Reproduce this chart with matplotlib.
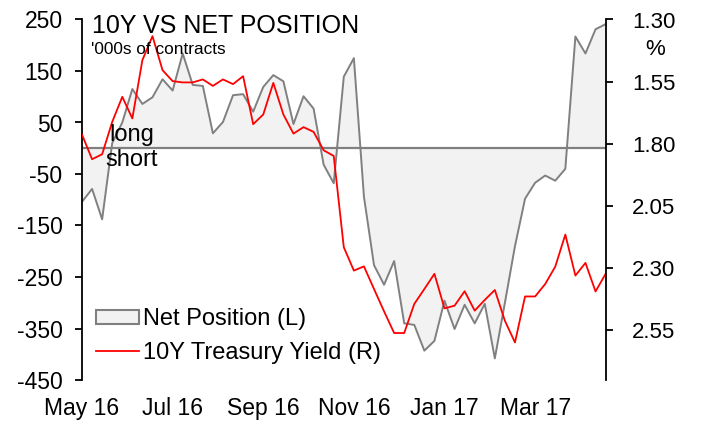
import numpy as np
import pandas as pd
import matplotlib
matplotlib.use('Agg')
import matplotlib.pyplot as plt
from matplotlib.patches import Patch
from matplotlib.lines import Line2D

plt.rcParams['font.family'] = ['Liberation Sans', 'DejaVu Sans']
plt.rcParams['axes.unicode_minus'] = False

# weekly data, May 2016 - Apr 2017
weeks = pd.date_range('2016-05-03', periods=53, freq='7D')

# net position, '000s of contracts (left axis)
net_position = [-104, -79, -138, 10, 50, 115, 86, 99, 134, 112,
                184, 123, 121, 29, 51, 103, 105, 71, 119, 142,
                130, 47, 101, 77, -32, -68, 139, 175, -94, -227,
                -265, -219, -340, -343, -393, -374, -296, -351, -304, -340,
                -302, -408, -300, -190, -98, -67, -53, -63, -40, 217,
                184, 231, 241]

# 10Y treasury yield, % (right axis, inverted)
yield_10y = [1.763, 1.862, 1.842, 1.712, 1.611, 1.698, 1.463, 1.367, 1.504, 1.548,
             1.553, 1.553, 1.541, 1.567, 1.541, 1.560, 1.528, 1.721, 1.682, 1.555,
             1.682, 1.759, 1.733, 1.752, 1.826, 1.849, 2.216, 2.310, 2.293, 2.384,
             2.474, 2.561, 2.561, 2.444, 2.384, 2.323, 2.462, 2.451, 2.393, 2.471,
             2.428, 2.388, 2.512, 2.599, 2.414, 2.414, 2.364, 2.294, 2.165, 2.330,
             2.279, 2.394, 2.323]

left_ticks = [-450, -350, -250, -150, -50, 50, 150, 250]
right_ticks = [1.30, 1.55, 1.80, 2.05, 2.30, 2.55]

x = np.arange(len(weeks))

fig = plt.figure(figsize=(7.04, 4.23), dpi=100)
ax = fig.add_axes([82 / 704, 43 / 423, 523.6 / 704, 360.5 / 423])

# 净头寸：面积 + 线
ax.fill_between(x, net_position, 0, color='#f2f2f2', lw=0)
ax.plot(x, net_position, color='#808080', lw=1.4)
ax.axhline(0, color='#808080', lw=1.6)

ax.set_xlim(0, len(x) - 1)
ax.set_ylim(-450, 250)
ax.set_yticks(left_ticks)
ax.set_xticks(x[::9])
ax.set_xticklabels(weeks[::9].strftime('%b %y'))
ax.tick_params(axis='y', direction='out', length=5, width=1.3, labelsize=16.5, pad=9)
ax.tick_params(axis='x', length=0, labelsize=16.5, pad=12)
for s in ['top', 'right', 'bottom']:
    ax.spines[s].set_visible(False)
ax.spines['left'].set_linewidth(1.3)

# 收益率：右轴反向
ax2 = ax.twinx()
ax2.plot(x, yield_10y, color='#ff0000', lw=1.3)
ax2.set_ylim(2.75, 1.30)
ax2.set_yticks(right_ticks)
ax2.set_yticklabels([f'{v:.2f}' for v in right_ticks])
ax2.tick_params(axis='y', direction='out', length=5, width=1.3, labelsize=16, pad=14)
for s in ['top', 'left', 'bottom']:
    ax2.spines[s].set_visible(False)
ax2.spines['right'].set_linewidth(1.3)

# 文字
fig.text(92 / 704, 1 - 33 / 423, '10Y VS NET POSITION', fontsize=18, va='baseline')
fig.text(91 / 704, 1 - 54.5 / 423, "'000s of contracts", fontsize=12.4, va='baseline')
fig.text(655 / 704, 1 - 49 / 423, '%', fontsize=16, ha='center', va='center')
fig.text(109 / 704, 1 - 141 / 423, 'long', fontsize=17, va='baseline')
fig.text(105 / 704, 1 - 166 / 423, 'short', fontsize=17, va='baseline')

handles = [Patch(facecolor='#f2f2f2', edgecolor='#808080', lw=1.5),
           Line2D([], [], color='#ff0000', lw=1.3)]
ax2.legend(handles, ['Net Position (L)', '10Y Treasury Yield (R)'],
           loc='upper left', bbox_to_anchor=((96 - 82) / 523.6, (380 - 308) / 360.5),
           frameon=False, fontsize=17, borderpad=0, borderaxespad=0,
           handlelength=1.8, handleheight=0.55, handletextpad=0.2, labelspacing=0.5)

plt.savefig('out.png', dpi=100)
